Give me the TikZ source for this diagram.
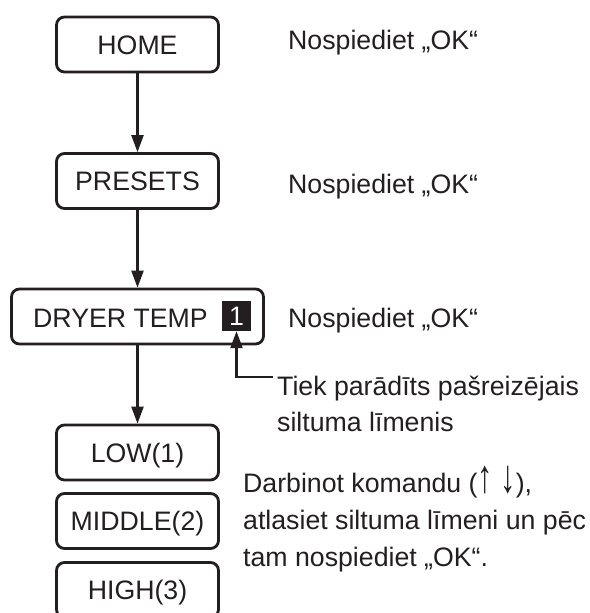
\documentclass[tikz,border=0pt]{standalone}
\usepackage{fontspec}
\usepackage{graphicx}
\setmainfont{Liberation Sans}
\usetikzlibrary{arrows.meta}
\definecolor{ink}{HTML}{231F20}
\newcommand{\tallarrow}[1]{\raisebox{-0.5pt}{\scalebox{1.15}[1.75]{#1}}}
\begin{document}
\begin{tikzpicture}[x=1pt,y=-1pt,
  every node/.style={font=\fontsize{26.7}{36}\selectfont, text=ink},
  menubox/.style={draw=ink, line width=2.8pt, rounded corners=8pt, minimum width=162pt, minimum height=55pt, inner sep=0pt, text height=19pt, text depth=0pt},
  flow/.style={draw=ink, line width=2.2pt, -{Triangle[length=17pt,width=12pt]}},
  note/.style={anchor=base west, inner sep=0pt}
]
\useasboundingbox (0,0) rectangle (589,613);
\fill[white] (0,0) rectangle (589,613);

\node[menubox] (home) at (137.5,44.5) {HOME};
\node[menubox] (presets) at (137.5,181) {PRESETS};
\node[menubox, minimum width=252pt] (dryer) at (137.5,316.5) {};
\node[anchor=base west, inner sep=0pt] (dryertxt) at (33,327) {DRYER TEMP};
\node[fill=ink, text=white, minimum width=29pt, minimum height=30pt, inner sep=0pt, text height=19pt, text depth=0pt] (one) at (236.5,316) {1};
\node[menubox] (low) at (137.5,452.5) {LOW(1)};
\node[menubox] (middle) at (137.5,521) {MIDDLE(2)};
\node[menubox] (high) at (137.5,590) {HIGH(3)};

\draw[flow] (home) -- (presets);
\draw[flow] (presets) -- (dryer);
\draw[flow] (dryer) -- (low);

\coordinate (ptr) at (273,377);
\draw[flow] (ptr) -| (one.south);

\node[note] (n1) at (288,49) {Nospiediet „OK“};
\node[note] (n2) at (288,193) {Nospiediet „OK“};
\node[note] (n3) at (288,327) {Nospiediet „OK“};
\node[note] (t1) at (277,395) {Tiek parādīts pašreizējais};
\node[note] (t2) at (277,431) {siltuma līmenis};
\node[note] (d1) at (243,492) {Darbinot komandu (\tallarrow{↑} \tallarrow{↓}),};
\node[note] (d2) at (243,529) {atlasiet siltuma līmeni un pēc};
\node[note] (d3) at (243,566) {tam nospiediet „OK“.};
\end{tikzpicture}
\end{document}
